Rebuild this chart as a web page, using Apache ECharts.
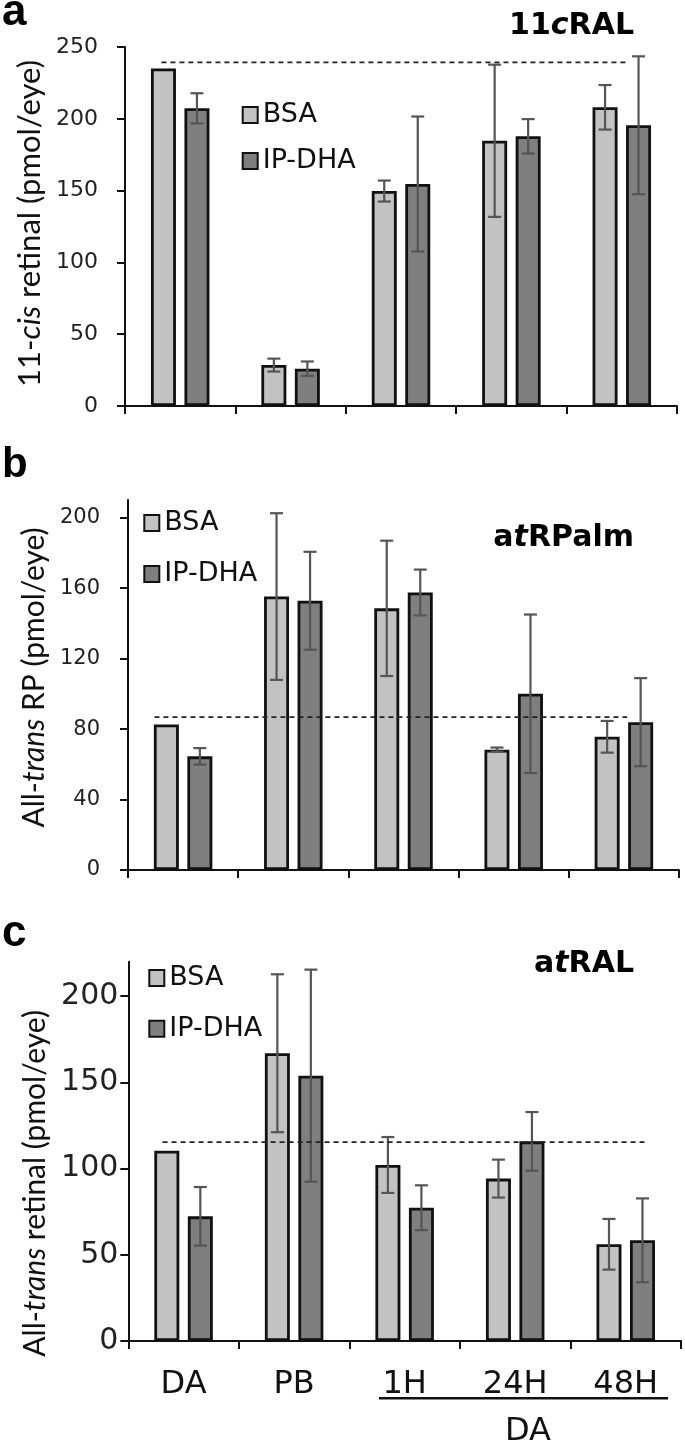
<!DOCTYPE html>
<html>
<head>
<meta charset="utf-8">
<script src="https://cdn.jsdelivr.net/npm/echarts@6/dist/echarts.min.js"></script>
<style>
html,body{margin:0;padding:0;background:#fff;}
#chart{width:685px;height:1443px;}
</style>
</head>
<body>
<div id="chart"></div>
<script>
// ---------------- data ----------------
const categories = ['DA', 'PB', '1H', '24H', '48H'];
const seriesNames = ['BSA', 'IP-DHA'];

// panel a: 11cRAL (11-cis retinal, pmol/eye)
const bsaA = [235, 28.5, 149.7, 184.7, 208];
const bsaErrA = [0, 4.5, 7.3, 53, 15.5];
const ipA = [207.3, 26, 154.6, 187.8, 195.5];
const ipErrA = [10.5, 5, 47, 12, 48];
const refA = 239.3;
const refSpanA = [0.33, 4.55];
const yTicksA = [0, 50, 100, 150, 200, 250];

// panel b: atRPalm (all-trans RP, pmol/eye)
const bsaB = [82.6, 155.2, 148.5, 68.3, 75.6];
const bsaErrB = [0, 47.3, 38.4, 1.2, 9];
const ipB = [64.5, 152.8, 157.5, 100, 83.9];
const ipErrB = [4.7, 27.8, 13, 45, 25];
const refB = 86.8;
const refSpanB = [0.24, 4.53];
const yTicksB = [0, 40, 80, 120, 160, 200];

// panel c: atRAL (all-trans retinal, pmol/eye)
const bsaC = [110.4, 166.9, 102.1, 94.2, 56.1];
const bsaErrC = [0, 45.8, 16.2, 11, 14.7];
const ipC = [72.3, 153.9, 77.3, 115.8, 58.4];
const ipErrC = [17, 61.5, 13, 17, 24.3];
const refC = 115.4;
const refSpanC = [0.31, 4.67];
const yTicksC = [0, 50, 100, 150, 200];

// ---------------- style ----------------
const FONT = 'DejaVu Sans';
const TFONT = 'Lato';
const BAR_W = 25;
const BAR_GAP = 0.34;
const OFF = BAR_W * (1 + BAR_GAP) / 2;
const CAP = 6.5;
const COL_BSA = '#c2c2c2';
const COL_IP = '#7f7f7f';
const EDGE = '#111';

function errRender(params, api) {
  const cat = api.value(0), s = api.value(1), m = api.value(2), e = api.value(3);
  if (!(e > 0)) return null;
  const top = api.coord([cat, m + e]);
  const bot = api.coord([cat, m - e]);
  const x = top[0] + (s === 0 ? -OFF : OFF);
  const style = { stroke: '#555', lineWidth: 2.2 };
  return {
    type: 'group',
    children: [
      { type: 'line', shape: { x1: x, y1: top[1], x2: x, y2: bot[1] }, style: style },
      { type: 'line', shape: { x1: x - CAP, y1: top[1], x2: x + CAP, y2: top[1] }, style: style },
      { type: 'line', shape: { x1: x - CAP, y1: bot[1], x2: x + CAP, y2: bot[1] }, style: style }
    ]
  };
}

const panels = [
  { bsa: bsaA, bsaErr: bsaErrA, ip: ipA, ipErr: ipErrA, ref: refA, refSpan: refSpanA, ticks: yTicksA,
    max: 250, grid: { left: 125, right: 8, top: 47, bottom: 1443 - 406 },
    yName: '11-{i|cis} retinal (pmol/eye)', yNameSize: 31, yNameGap: 74, yNamePad: [0, 0, 0, 6],
    yLabelSize: 22, yLabelMargin: 27, showX: false,
    legend: { left: 241.7, top: 101.5, itemGap: 19 } },
  { bsa: bsaB, bsaErr: bsaErrB, ip: ipB, ipErr: ipErrB, ref: refB, refSpan: refSpanB, ticks: yTicksB,
    max: 210, grid: { left: 128, right: 6, top: 500, bottom: 1443 - 870 },
    yName: 'All-{i|trans} RP (pmol/eye)', yNameSize: 30, yNameGap: 76, yNamePad: [0, 0, 0, 15],
    yLabelSize: 21, yLabelMargin: 28, showX: false,
    legend: { left: 143.3, top: 509.5, itemGap: 24 } },
  { bsa: bsaC, bsaErr: bsaErrC, ip: ipC, ipErr: ipErrC, ref: refC, refSpan: refSpanC, ticks: yTicksC,
    max: 220, grid: { left: 128.3, right: 4, top: 961.7, bottom: 1443 - 1341 },
    yName: 'All-{i|trans} retinal (pmol/eye)', yNameSize: 30, yNameGap: 73, yNamePad: [0, 64, 0, 0],
    yLabelSize: 30, yLabelMargin: 10, showX: true,
    legend: { left: 148.3, top: 964.5, itemGap: 23.7 } }
];

const grid = [], yAxis = [], series = [], legend = [];
const catAxes = [], valAxes = [];

panels.forEach(function (p, k) {
  grid.push(p.grid);
  catAxes.push({
    type: 'category', gridIndex: k, data: categories,
    axisLine: { lineStyle: { color: '#111', width: 2 } },
    axisTick: { show: true, length: 8, lineStyle: { color: '#111', width: 2 } },
    axisLabel: { show: p.showX, fontFamily: FONT, fontSize: 32, color: '#111', margin: 28 },
    splitLine: { show: false }
  });
  valAxes.push({ type: 'value', gridIndex: k, min: 0, max: 5, show: false });
  yAxis.push({
    type: 'value', gridIndex: k, min: 0, max: p.max, interval: p.ticks[1] - p.ticks[0],
    name: p.yName, nameLocation: 'middle', nameGap: p.yNameGap,
    nameTextStyle: {
      fontFamily: TFONT, fontSize: p.yNameSize, color: '#111', padding: p.yNamePad,
      rich: { i: { fontFamily: TFONT, fontSize: p.yNameSize, fontStyle: 'italic', color: '#111' } }
    },
    axisLine: { show: true, lineStyle: { color: '#111', width: 2 } },
    axisTick: { show: true, length: 8, customValues: p.ticks, lineStyle: { color: '#111', width: 2 } },
    axisLabel: { customValues: p.ticks, fontFamily: FONT, fontSize: p.yLabelSize, color: '#222', margin: p.yLabelMargin },
    splitLine: { show: false }
  });
  const common = { type: 'bar', xAxisIndex: k, yAxisIndex: k, barWidth: BAR_W, barGap: (BAR_GAP * 100) + '%', z: 2 };
  series.push(Object.assign({}, common, {
    name: seriesNames[0], data: p.bsa,
    itemStyle: { color: COL_BSA, borderColor: EDGE, borderWidth: 2.8 }
  }));
  series.push(Object.assign({}, common, {
    name: seriesNames[1], data: p.ip,
    itemStyle: { color: COL_IP, borderColor: EDGE, borderWidth: 2.8 }
  }));
  const errData = [];
  categories.forEach(function (c, i) {
    errData.push([i, 0, p.bsa[i], p.bsaErr[i]]);
    errData.push([i, 1, p.ip[i], p.ipErr[i]]);
  });
  series.push({
    type: 'custom', name: 'err' + k, xAxisIndex: k, yAxisIndex: k, z: 4, silent: true,
    renderItem: errRender, data: errData, encode: { x: 0, y: 2 }
  });
  series.push({
    type: 'line', name: 'ref' + k, xAxisIndex: 3 + k, yAxisIndex: k, z: 5, silent: true,
    symbol: 'none', data: [[p.refSpan[0], p.ref], [p.refSpan[1], p.ref]],
    lineStyle: { color: '#222', width: 1.7, type: [5, 4] }
  });
  legend.push({
    data: seriesNames, orient: 'vertical', left: p.legend.left, top: p.legend.top,
    itemGap: p.legend.itemGap, itemWidth: 15, itemHeight: 16, icon: 'rect', padding: 0,
    selectedMode: false,
    textStyle: { fontFamily: FONT, fontSize: 27, color: '#111', lineHeight: 27 }
  });
});

const titleRich = function (sz) {
  return { fontFamily: FONT, fontWeight: 'bold', fontSize: sz, color: '#000',
    rich: { i: { fontFamily: FONT, fontWeight: 'bold', fontStyle: 'italic', fontSize: sz, color: '#000' } } };
};

const option = {
  animation: false,
  backgroundColor: '#fff',
  grid: grid,
  xAxis: catAxes.concat(valAxes),
  yAxis: yAxis,
  legend: legend,
  title: [
    { text: 'a', left: 2, top: -9, padding: 0, textStyle: { fontFamily: 'Liberation Sans', fontWeight: 'bold', fontSize: 44, color: '#000' } },
    { text: 'b', left: 2, top: 444.5, padding: 0, textStyle: { fontFamily: 'Liberation Sans', fontWeight: 'bold', fontSize: 42, color: '#000' } },
    { text: 'c', left: 2, top: 912, padding: 0, textStyle: { fontFamily: 'Liberation Sans', fontWeight: 'bold', fontSize: 44, color: '#000' } },
    { text: '11{i|c}RAL', right: 51, top: 11.3, padding: 0, textStyle: titleRich(30) },
    { text: 'a{i|t}RPalm', right: 51, top: 523, padding: 0, textStyle: titleRich(30) },
    { text: 'a{i|t}RAL', right: 51, top: 949.6, padding: 0, textStyle: titleRich(30) }
  ],
  graphic: [
    { type: 'line', shape: { x1: 379, y1: 1398.3, x2: 668, y2: 1398.3 }, style: { stroke: '#111', lineWidth: 2.5 } },
    { type: 'text', x: 528, y: 1415.5, style: { text: 'DA', font: '32px "DejaVu Sans"', fill: '#111', textAlign: 'center', textVerticalAlign: 'top' } }
  ],
  series: series
};

const chart = echarts.init(document.getElementById('chart'), null, { renderer: 'canvas' });
chart.setOption(option);
</script>
</body>
</html>
